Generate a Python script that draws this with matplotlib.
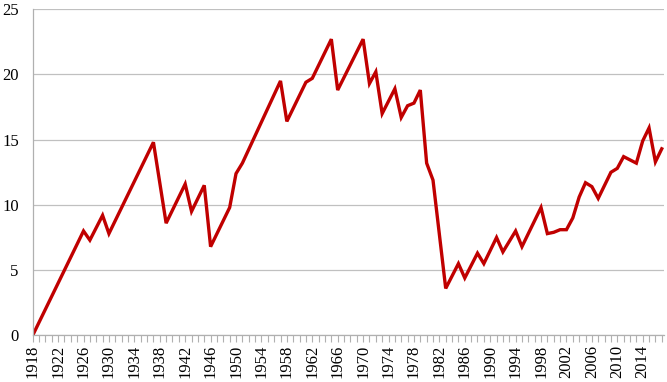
import matplotlib
matplotlib.use("Agg")
import matplotlib.pyplot as plt
from matplotlib import rcParams
from matplotlib.ticker import MultipleLocator

rcParams['font.family'] = ['Liberation Serif', 'DejaVu Serif']

years = [1918, 1926, 1927, 1929, 1930, 1937, 1939, 1942, 1943, 1945, 1946,
         1949, 1950, 1951, 1957, 1958, 1961, 1962, 1965, 1966, 1970, 1971,
         1972, 1973, 1975, 1976, 1977, 1978, 1979, 1980, 1981, 1983, 1985,
         1986, 1988, 1989, 1991, 1992, 1994, 1995, 1998, 1999, 2000, 2001,
         2002, 2003, 2004, 2005, 2006, 2007, 2009, 2010, 2011, 2013, 2014,
         2015, 2016, 2017]
values = [0.0, 8.0, 7.3, 9.2, 7.8, 14.8, 8.6, 11.6, 9.5, 11.5, 6.8,
          9.8, 12.4, 13.2, 19.5, 16.4, 19.4, 19.7, 22.7, 18.8, 22.7, 19.3,
          20.2, 17.0, 18.9, 16.7, 17.6, 17.8, 18.8, 13.2, 11.9, 3.6, 5.5,
          4.4, 6.3, 5.5, 7.5, 6.4, 8.0, 6.8, 9.8, 7.8, 7.9, 8.1,
          8.1, 9.0, 10.6, 11.7, 11.4, 10.5, 12.5, 12.8, 13.7, 13.2, 14.9,
          15.9, 13.3, 14.3]
year_labels = list(range(1918, 2017, 4))

fig, ax = plt.subplots(figsize=(6.67, 3.82), dpi=100)
fig.subplots_adjust(left=0.049, right=0.995, top=0.976, bottom=0.122)

ax.plot(years, values, color="#C00000", lw=2.4, solid_joinstyle="miter")

ax.set_ylim(0, 25)
ax.set_xlim(1918, 2017.3)
ax.yaxis.set_major_locator(MultipleLocator(5))
ax.grid(axis="y", color="#c0c0c0", lw=0.9)
ax.set_axisbelow(True)

ax.set_xticks(year_labels)
ax.set_xticklabels([str(y) for y in year_labels], rotation=90, fontsize=12)
ax.xaxis.set_minor_locator(MultipleLocator(1))
ax.tick_params(axis="x", which="both", length=5, color="#b0b0b0", width=0.8, pad=2)
ax.tick_params(axis="y", length=0, labelsize=12, pad=10)

for s in ["top", "right"]:
    ax.spines[s].set_visible(False)
for s in ["left", "bottom"]:
    ax.spines[s].set_color("#b0b0b0")
    ax.spines[s].set_linewidth(0.9)

plt.savefig("out.png", dpi=100)
